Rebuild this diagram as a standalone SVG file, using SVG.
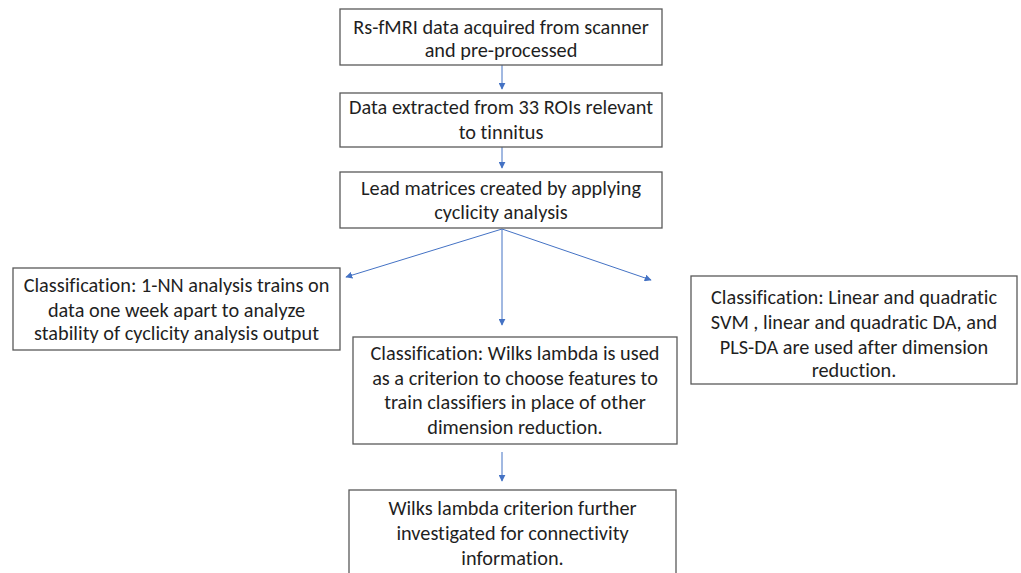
<svg xmlns="http://www.w3.org/2000/svg" width="1021" height="573" viewBox="0 0 1021 573">
<style>
.box{fill:#ffffff;stroke:#595959;stroke-width:1.3}
.t{font-family:Carlito,Lato,"Liberation Sans",sans-serif;font-size:20.3px;fill:#1f1f1f;text-anchor:middle;font-variant-ligatures:none}
.c{stroke:#4472C4;stroke-width:1;fill:none;marker-end:url(#ah)}
</style>
<defs>
<marker id="ah" viewBox="0 0 10 10" refX="9" refY="5" markerWidth="7" markerHeight="7" markerUnits="userSpaceOnUse" orient="auto">
<path d="M0,0 L10,5 L0,10 z" fill="#4472C4"/>
</marker>
</defs>
<rect width="1021" height="573" fill="#ffffff"/>
<g id="connectors">
<line class="c" x1="502" y1="65" x2="502" y2="89"/>
<line class="c" x1="502" y1="147" x2="502" y2="168"/>
<line class="c" x1="502" y1="229" x2="346" y2="277"/>
<line class="c" x1="502" y1="229" x2="502" y2="325"/>
<line class="c" x1="502" y1="229" x2="651" y2="280"/>
<line class="c" x1="502" y1="452" x2="502" y2="481"/>
</g>
<g id="n1">
<rect class="box" x="340" y="9" width="322" height="56"/>
<text class="t"><tspan x="501" y="34">Rs-fMRI data acquired from scanner</tspan><tspan x="501" y="57">and pre-processed</tspan></text>
</g>
<g id="n2">
<rect class="box" x="340" y="93" width="322" height="54"/>
<text class="t"><tspan x="501" y="114">Data extracted from 33 ROIs relevant</tspan><tspan x="501" y="139">to tinnitus</tspan></text>
</g>
<g id="n3">
<rect class="box" x="340" y="172" width="322" height="56"/>
<text class="t"><tspan x="501" y="195">Lead matrices created by applying</tspan><tspan x="501" y="219">cyclicity analysis</tspan></text>
</g>
<g id="n4">
<rect class="box" x="13" y="268" width="327" height="82"/>
<text class="t"><tspan x="176.5" y="292">Classification: 1-NN analysis trains on</tspan><tspan x="176.5" y="317">data one week apart to analyze</tspan><tspan x="176.5" y="340">stability of cyclicity analysis output</tspan></text>
</g>
<g id="n5">
<rect class="box" x="353" y="337" width="324" height="107"/>
<text class="t"><tspan x="515" y="360">Classification: Wilks lambda is used</tspan><tspan x="515" y="385">as a criterion to choose features to</tspan><tspan x="515" y="409">train classifiers in place of other</tspan><tspan x="515" y="434">dimension reduction.</tspan></text>
</g>
<g id="n6">
<rect class="box" x="691" y="276" width="326" height="108"/>
<text class="t"><tspan x="854" y="304">Classification: Linear and quadratic</tspan><tspan x="854" y="329">SVM , linear and quadratic DA, and</tspan><tspan x="854" y="354">PLS-DA are used after dimension</tspan><tspan x="854" y="377">reduction.</tspan></text>
</g>
<g id="n7">
<rect class="box" x="349" y="490" width="327" height="90"/>
<text class="t"><tspan x="512.5" y="515">Wilks lambda criterion further</tspan><tspan x="512.5" y="540">investigated for connectivity</tspan><tspan x="512.5" y="565">information.</tspan></text>
</g>
</svg>
